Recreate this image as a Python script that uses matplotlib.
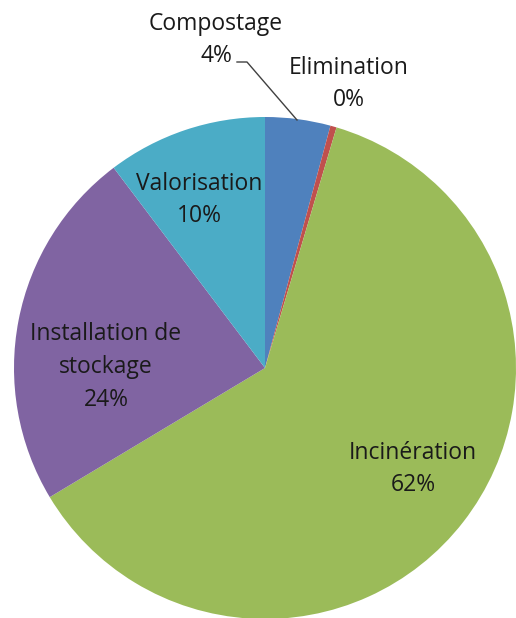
import matplotlib
matplotlib.use("Agg")
import matplotlib.pyplot as plt

categories = ["Compostage", "Elimination", "Incinération", "Installation de\nstockage", "Valorisation"]
values = [4.2, 0.4, 61.8, 23.3, 10.3]
pct_labels = ["4%", "0%", "62%", "24%", "10%"]
colors = ["#4F81BD", "#C0504D", "#9BBB59", "#8064A2", "#4BACC6"]

W, H = 516, 618
fig = plt.figure(figsize=(W / 100, H / 100), dpi=100)
ax = fig.add_axes([0, 0, 1, 1])

cx, cy, r = 265, H - 368, 251
wedges, _ = ax.pie(values, colors=colors, startangle=90, counterclock=False,
                   center=(cx, cy), radius=r, frame=True,
                   wedgeprops=dict(linewidth=0))
ax.set_xlim(0, W)
ax.set_ylim(0, H)
ax.set_aspect("equal")
ax.axis("off")

# label positions (pixel coords from top)
label_pos = [(216, 40), (349, 84), (413, 469), (106, 367), (199, 200)]
font = dict(family=["Open Sans", "DejaVu Sans"], fontsize=16.5, color="#1a1a1a")
for cat, pct, (x, y) in zip(categories, pct_labels, label_pos):
    ax.text(x, H - y, f"{cat}\n{pct}", ha="center", va="center",
            linespacing=1.48, **font)

# leader line for Compostage
ax.plot([237, 247, 297], [H - 62, H - 62, H - 120], color="#404040", lw=1)

fig.savefig("out.png", dpi=100)
